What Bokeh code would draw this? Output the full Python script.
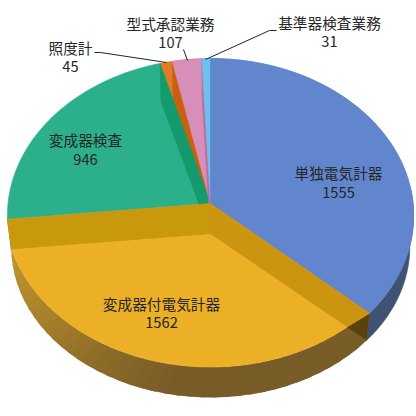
import numpy as np
from bokeh.plotting import figure
from bokeh.models import Range1d
from bokeh.core.properties import value
from bokeh.embed import file_html
from bokeh.resources import INLINE

names = ["単独電気計器", "変成器付電気計器", "変成器検査", "照度計", "型式承認業務", "基準器検査業務"]
values = [1555, 1562, 946, 45, 107, 31]
colors = ["#6286CE", "#ECB027", "#2BB08B", "#E07B28", "#D58FB9", "#70C0EF"]
wall_colors = ["#3F5272", "#7A5E2A", "#149A6C", "#C8600F", "#B5709F", "#4E9CCB"]
label_x = [338, 161, 85, 70, 170, 329]
label_y = [171.5, 302.5, 138.5, 46.5, 22.5, 21.5]
value_y = [191.5, 321.5, 158.5, 65.5, 41.5, 40.5]

CX = 210
# perspective planes: (a, b, c, k)
TOP = (202.5, 140.6, 203, -0.0764)
BOTTOM = (198.7, 131.7, 234.9, -0.0764)
SUNK = (203, 193, 234, 0.165)


def proj(theta_deg, plane):
    a, b, c, k = plane
    t = np.radians(theta_deg)
    X, Y = np.sin(t), -np.cos(t)
    d = 1 + k * Y
    return CX + a * X / d, (c + b * Y) / d


def arc(t0, t1, plane, n=60):
    th = np.linspace(t0, t1, n)
    x, y = proj(th, plane)
    return list(x), list(y)


edges = np.concatenate([[0], np.cumsum(values)]) / sum(values) * 360
p = figure(width=416, height=416, x_range=Range1d(0, 416), y_range=Range1d(416, 0),
           toolbar_location=None, output_backend="svg", min_border=0,
           outline_line_color=None, background_fill_color="white", border_fill_color="white")
p.axis.visible = False
p.grid.visible = False


def poly(xs, ys, color, lw=0.6):
    p.patch(xs, ys, fill_color=color, line_color=color, line_width=lw)


def apex(plane):
    return CX, plane[2]


e = edges
# outer wall of the first slice
x0, y0 = arc(85, e[1], TOP)
x1, y1 = arc(85, e[1], BOTTOM)
poly(x0 + x1[::-1], y0 + y1[::-1], wall_colors[0])

# outer wall of the second slice, shaded along the arc
shade_t = [e[1], 190, 215, 235, 250, e[2]]
shade_r = [0x7A, 0x78, 0x8E, 0xA5, 0xB5, 0xC2]
shade_g = [0x5E, 0x5C, 0x6D, 0x80, 0x8C, 0x97]
shade_b = [0x2A, 0x28, 0x28, 0x2A, 0x2C, 0x2E]
steps = np.linspace(e[1], e[2], 41)
for a, b in zip(steps[:-1], steps[1:] + 1.5):
    xa, ya = arc(a, min(b, e[2]), SUNK, 3)
    xb, yb = arc(a, min(b, e[2]), BOTTOM, 3)
    m = a + 1.5
    c = "#%02X%02X%02X" % (int(np.interp(m, shade_t, shade_r)),
                           int(np.interp(m, shade_t, shade_g)),
                           int(np.interp(m, shade_t, shade_b)))
    p.patch(xa + xb[::-1], ya + yb[::-1], fill_color=c, line_color=None)

# corner where the second slice meets the first
sx, sy = proj(e[1], SUNK)
tx, ty = proj(e[1], TOP)
bx, by = proj(e[1], BOTTOM)
poly([sx, tx, bx], [sy, ty, by], "#5B410C")
sx, sy = proj(e[2], SUNK)
tx, ty = proj(e[2], TOP)
bx, by = proj(e[2], BOTTOM)
poly([sx, tx, bx], [sy, ty, by], "#9A7620")

# top faces
for i, col in enumerate(colors):
    if i == 1:
        continue
    ax, ay = apex(TOP)
    x, y = arc(e[i], e[i + 1], TOP)
    poly([ax] + x, [ay] + y, col)

# dark wall of slice 4, clipped by the top faces drawn after it
txx, tyy = proj(e[4], TOP)
bxx, byy = proj(e[4], BOTTOM)
poly([txx, bxx, CX, CX], [tyy, byy, BOTTOM[2], TOP[2]], wall_colors[3])
# dark wall of slice 3
txx, tyy = proj(e[3], TOP)
bxx, byy = proj(e[3], BOTTOM)
poly([txx, bxx, CX, CX], [tyy, byy, BOTTOM[2], TOP[2]], wall_colors[2])
# pink face over the wall, then its own wall sliver, then the last face
ax, ay = apex(TOP)
x, y = arc(e[4], e[5], TOP)
poly([ax] + x, [ay] + y, colors[4])
txx, tyy = proj(e[5], TOP)
bxx, byy = proj(e[5], BOTTOM)
poly([txx, bxx, CX, CX], [tyy, byy, BOTTOM[2], TOP[2]], wall_colors[4])
x, y = arc(e[5], e[6], TOP)
poly([ax] + x, [ay] + y, colors[5])
x, y = arc(0, e[1], TOP)
poly([ax] + x, [ay] + y, colors[0])

# inner walls of the sunken slice
lx, ly = proj(e[2], TOP)
lsx, lsy = proj(e[2], SUNK)
poly([lx, CX, CX, lsx], [ly, TOP[2], SUNK[2], lsy], "#C8990C")
rx, ry = proj(e[1], TOP)
rsx, rsy = proj(e[1], SUNK)
poly([CX, rx, rsx, CX], [TOP[2], ry, rsy, SUNK[2]], "#CC9510")

# sunken top face
x, y = arc(e[1], e[2], SUNK)
poly([CX] + x, [SUNK[2]] + y, colors[1])

# leader lines
p.line([276, 269, 205], [30, 30, 59], line_color="#222222", line_width=1)
p.line([183, 187], [49, 60], line_color="#222222", line_width=1)
p.line([94, 100, 166], [52, 52, 62], line_color="#222222", line_width=1)

font = value("Noto Sans CJK JP")
p.text(label_x, label_y, text=names, text_font=font, text_font_size="14.67px",
       text_align="center", text_baseline="middle", text_color="#262626")
p.text(label_x, value_y, text=[str(v) for v in values], text_font=font, text_font_size="14.67px",
       text_align="center", text_baseline="middle", text_color="#262626")

open("out.html", "w").write(file_html(p, INLINE))
